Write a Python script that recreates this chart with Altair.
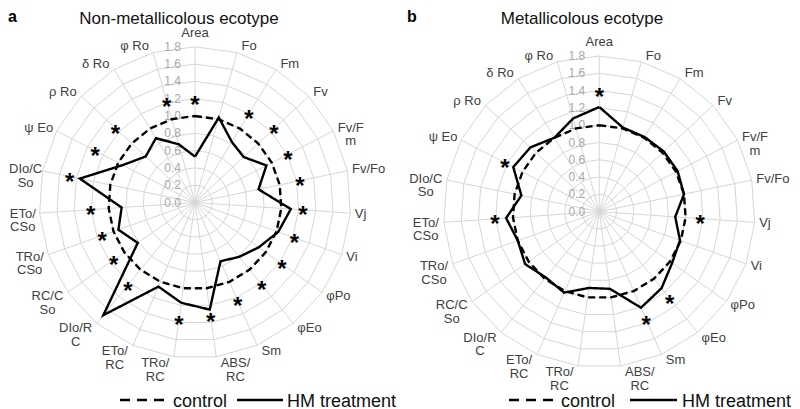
import math
import altair as alt
import pandas as pd

# ---------------- data ----------------
categories = ["Area", "Fo", "Fm", "Fv", "Fv/Fm", "Fv/Fo", "Vj", "Vi", "φPo", "φEo", "Sm",
              "ABS/RC", "TRo/RC", "ETo/RC", "DIo/RC", "RC/CSo", "TRo/CSo", "ETo/CSo",
              "DIo/CSo", "ψEo", "ρRo", "δRo", "φRo"]
category_labels = ["Area", "Fo", "Fm", "Fv", "Fv/F\nm", "Fv/Fo", "Vj", "Vi", "φPo", "φEo", "Sm",
                   "ABS/\nRC", "TRo/\nRC", "ETo/\nRC", "DIo/R\nC", "RC/C\nSo", "TRo/\nCSo",
                   "ETo/\nCSo", "DIo/C\nSo", "ψ Eo", "ρ Ro", "δ Ro", "φ Ro"]
radial_ticks = [0.0, 0.2, 0.4, 0.6, 0.8, 1.0, 1.2, 1.4, 1.6, 1.8]
tick_labels = ["0.0", "0.2", "0.4", "0.6", "0.8", "1.0", "1.2", "1.4", "1.6", "1.8"]
series_names = ["control", "HM treatment"]
panel_titles = ["Non-metallicolous ecotype", "Metallicolous ecotype"]
panel_letters = ["a", "b"]

# panel a : non-metallicolous ecotype
control_a = [1.00, 1.00, 1.00, 1.00, 1.00, 1.00, 1.00, 1.00, 1.00, 1.00, 1.00, 1.00,
             1.00, 1.00, 1.00, 1.00, 1.00, 1.00, 1.00, 1.00, 1.00, 1.00, 1.00]
hm_a = [0.53, 1.02, 0.82, 0.77, 0.93, 0.75, 1.11, 1.02, 0.90, 0.81, 0.74, 1.25,
        1.17, 1.06, 1.68, 0.81, 0.94, 0.85, 1.36, 0.94, 0.78, 0.87, 0.70]
star_cats_a = ["Area", "Fm", "Fv", "Fv/Fm", "Fv/Fo", "Vj", "Vi", "φPo", "φEo", "Sm",
               "ABS/RC", "TRo/RC", "DIo/RC", "RC/CSo", "TRo/CSo", "ETo/CSo", "DIo/CSo",
               "ψEo", "ρRo", "φRo"]
star_r_a = [1.19, 1.20, 1.25, 1.21, 1.24, 1.25, 1.22, 1.23, 1.22, 1.24,
            1.33, 1.36, 1.23, 1.15, 1.14, 1.21, 1.48, 1.30, 1.26, 1.21]

# panel b : metallicolous ecotype
control_b = [1.00, 1.00, 1.00, 1.00, 1.00, 1.00, 1.00, 1.00, 1.00, 1.00, 1.00, 1.00,
             1.00, 1.00, 1.00, 1.00, 1.00, 1.00, 1.00, 1.00, 1.00, 1.00, 1.00]
hm_b = [1.21, 1.01, 1.01, 1.02, 1.02, 1.00, 0.88, 0.99, 1.03, 1.14, 1.21, 0.90,
        0.89, 1.02, 0.98, 1.05, 1.00, 1.08, 0.92, 1.12, 1.09, 1.00, 1.12]
star_cats_b = ["Area", "Vj", "φEo", "Sm", "ETo/CSo", "ψEo"]
star_r_b = [1.39, 1.17, 1.29, 1.36, 1.21, 1.23]

panels = [
    {"control": control_a, "hm": hm_a, "star_cats": star_cats_a, "star_r": star_r_a},
    {"control": control_b, "hm": hm_b, "star_cats": star_cats_b, "star_r": star_r_b},
]

# ---------------- layout ----------------
FONT = "Liberation Sans, Arial, sans-serif"
W, H = 784, 401
K = 86.5                      # pixels per radial unit
centers = [(187.0, 194.5), (591.3, 203.7)]
cx0, cy0 = centers[0]
x_dom = [-cx0 / K, (W - cx0) / K]
y_dom = [(cy0 - H) / K, cy0 / K]
offsets = [((cx - cx0) / K, (cy0 - cy) / K) for cx, cy in centers]
n = len(categories)
angles = [2 * math.pi * i / n for i in range(n)]
RMAX = radial_ticks[-1]

CW = {"A": .667, "r": .333, "e": .556, "a": .556, "F": .611, "o": .556, "m": .833, "v": .5,
      "/": .278, "V": .667, "j": .222, "i": .222, "P": .667, "E": .667, "S": .667, "B": .667,
      "R": .722, "C": .722, "T": .611, "D": .722, "I": .278, " ": .278}


def text_w(s, fs):
    return max(sum(CW.get(ch, 0.58) for ch in line) for line in s.split("\n")) * fs


grid_rows, spoke_rows, tick_rows, line_rows, star_rows, label_rows = [], [], [], [], [], []
for p, (ox, oy) in enumerate(offsets):
    for ring in radial_ticks[1:]:
        for i in range(n + 1):
            a = angles[i % n]
            grid_rows.append({"x": ox + ring * math.sin(a), "y": oy + ring * math.cos(a),
                              "key": f"{p}-{ring}", "order": i})
    for i in range(n):
        a = angles[i]
        spoke_rows.append({"x": ox, "y": oy, "x1": ox + RMAX * math.sin(a),
                           "y1": oy + RMAX * math.cos(a)})
    for t, lab in zip(radial_ticks, tick_labels):
        tick_rows.append({"x": ox, "y": oy + t, "text": lab})
    for sname, vals in zip(series_names, [panels[p]["control"], panels[p]["hm"]]):
        for i in range(n + 1):
            a = angles[i % n]
            v = vals[i % n]
            line_rows.append({"x": ox + v * math.sin(a), "y": oy + v * math.cos(a),
                              "series": sname, "key": f"{p}-{sname}", "order": i})
    for cat, r in zip(panels[p]["star_cats"], panels[p]["star_r"]):
        a = angles[categories.index(cat)]
        star_rows.append({"x": ox + r * math.sin(a), "y": oy + r * math.cos(a)})
    for i, lab in enumerate(category_labels):
        s, c = math.sin(angles[i]), math.cos(angles[i])
        ax, ay = RMAX * K * s, RMAX * K * c
        w = text_w(lab, 13)
        if abs(s) < 0.1:
            px, py = ax, ay + 6.5 * c + 7.5
        elif s > 0:
            px, py = ax + 4.5 + w / 2, ay + 6.5 * c
        else:
            px, py = ax - 4.5 - w / 2, ay + 6.5 * c
        absx = centers[p][0] + px
        if absx - w / 2 < 1:
            px += 1 - (absx - w / 2)
        label_rows.append({"x": ox + px / K, "y": oy + py / K, "text": lab})

XS = alt.Scale(domain=x_dom, nice=False, zero=False)
YS = alt.Scale(domain=y_dom, nice=False, zero=False)


def X(f="x"):
    return alt.X(f"{f}:Q", scale=XS, axis=None)


def Y(f="y"):
    return alt.Y(f"{f}:Q", scale=YS, axis=None)


GRID = "#d6d6d6"
grid = alt.Chart(pd.DataFrame(grid_rows)).mark_line(color=GRID, strokeWidth=1).encode(
    x=X(), y=Y(), detail="key:N", order="order:Q")
spokes = alt.Chart(pd.DataFrame(spoke_rows)).mark_rule(color=GRID, strokeWidth=1).encode(
    x=X(), y=Y(), x2="x1:Q", y2="y1:Q")
ticks = alt.Chart(pd.DataFrame(tick_rows)).mark_text(
    font=FONT, fontSize=12, color="#a8a8a8", align="right", baseline="middle", dx=-14).encode(
    x=X(), y=Y(), text="text:N")
lines = alt.Chart(pd.DataFrame(line_rows)).mark_line(
    color="black", strokeWidth=2.4, strokeJoin="miter").encode(
    x=X(), y=Y(), detail="key:N", order="order:Q",
    strokeDash=alt.StrokeDash("series:N", scale=alt.Scale(domain=series_names,
                                                          range=[[7, 4], [1, 0]]), legend=None))
stars = alt.Chart(pd.DataFrame(star_rows)).mark_text(
    text="*", font=FONT, fontSize=24, fontWeight="bold", color="black",
    baseline="alphabetic", dy=13.5).encode(x=X(), y=Y())
labels = alt.Chart(pd.DataFrame(label_rows)).mark_text(
    font=FONT, fontSize=13, color="#404040", align="center", baseline="middle",
    lineBreak="\n", lineHeight=13.5).encode(x=X(), y=Y(), text="text:N")

one = pd.DataFrame({"k": [0]})


def txt(text, x, y, **kw):
    return alt.Chart(one).mark_text(font=FONT, baseline="alphabetic", **kw).encode(
        x=alt.value(x), y=alt.value(y), text=alt.value(text))


def seg(x1, x2, y, dash=None):
    kw = {"strokeDash": dash} if dash else {}
    return alt.Chart(one).mark_rule(color="black", strokeWidth=2.4, **kw).encode(
        x=alt.value(x1), x2=alt.value(x2), y=alt.value(y))


decor = [
    txt(panel_letters[0], 0, 14, fontSize=16, fontWeight="bold", align="left", color="black"),
    txt(panel_letters[1], 399, 14, fontSize=16, fontWeight="bold", align="left", color="black"),
    txt(panel_titles[0], 171, 15.5, fontSize=17, align="center", color="#111111"),
    txt(panel_titles[1], 574, 15.5, fontSize=17, align="center", color="#111111"),
    seg(112, 159, 392, [10, 7]), txt(series_names[0], 165, 398.5, fontSize=18, align="left", color="#111111"),
    seg(229, 275, 392), txt(series_names[1], 279, 398.5, fontSize=18, align="left", color="#111111"),
    seg(501, 547, 392, [10, 7]), txt(series_names[0], 553, 398.5, fontSize=18, align="left", color="#111111"),
    seg(622, 669, 392), txt(series_names[1], 674, 398.5, fontSize=18, align="left", color="#111111"),
]

chart = alt.layer(grid, spokes, ticks, lines, stars, labels, *decor).properties(
    width=W, height=H, padding=0, autosize=alt.AutoSizeParams(type="none")
).configure_view(stroke=None)

chart.save("out.html", embed_options={"renderer": "svg", "actions": False})
